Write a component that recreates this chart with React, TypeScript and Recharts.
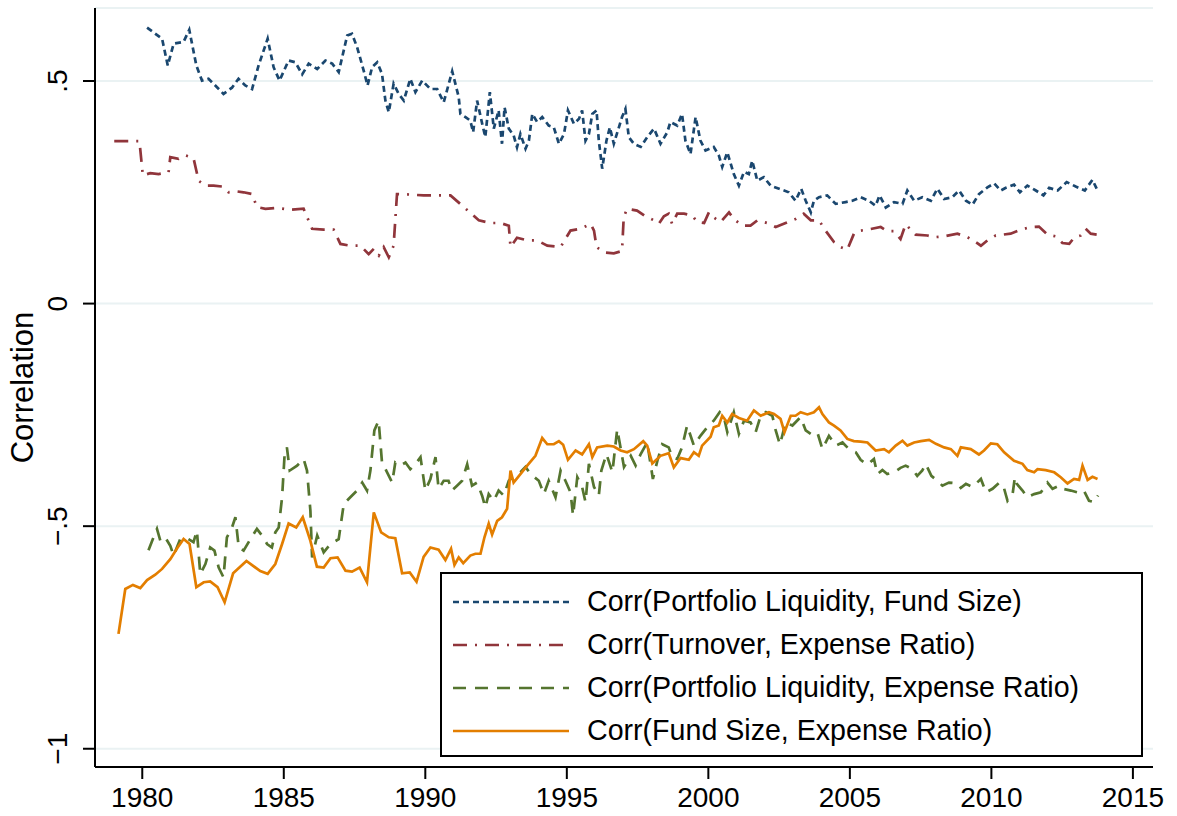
import React from "react";
import { LineChart, Line, XAxis, YAxis, CartesianGrid, Legend, Label } from "recharts";

const FONT = '"Liberation Sans", Arial, Helvetica, sans-serif';

// [year, correlation] pairs
const liqSize: [number, number][] = [
  [1980.17, 0.62], [1980.7, 0.595], [1980.9, 0.535], [1981.11, 0.584], [1981.46, 0.588], [1981.66, 0.615],
  [1981.91, 0.535], [1982.11, 0.501], [1982.34, 0.505], [1982.58, 0.49], [1982.87, 0.471], [1983.17, 0.485],
  [1983.4, 0.505], [1983.64, 0.49], [1983.88, 0.482], [1984.11, 0.535], [1984.43, 0.595], [1984.64, 0.531],
  [1984.85, 0.501], [1985.17, 0.546], [1985.41, 0.542], [1985.65, 0.515], [1985.88, 0.539], [1986.18, 0.527],
  [1986.47, 0.546], [1986.71, 0.539], [1986.94, 0.52], [1987.24, 0.602], [1987.41, 0.606], [1987.59, 0.576],
  [1987.82, 0.524], [1987.96, 0.49], [1988.12, 0.531], [1988.3, 0.542], [1988.47, 0.516], [1988.59, 0.456],
  [1988.71, 0.43], [1988.88, 0.494], [1989.06, 0.471], [1989.24, 0.456], [1989.47, 0.505], [1989.65, 0.475],
  [1989.89, 0.501], [1990.18, 0.482], [1990.42, 0.482], [1990.65, 0.452], [1990.95, 0.522], [1991.18, 0.464],
  [1991.24, 0.426], [1991.42, 0.419], [1991.59, 0.411], [1991.69, 0.385], [1991.83, 0.456], [1992.01, 0.404],
  [1992.12, 0.374], [1992.28, 0.475], [1992.42, 0.393], [1992.59, 0.434], [1992.71, 0.359], [1992.8, 0.441],
  [1992.95, 0.393], [1993.12, 0.378], [1993.24, 0.351], [1993.36, 0.381], [1993.54, 0.348], [1993.66, 0.366],
  [1993.78, 0.426], [1993.95, 0.408], [1994.13, 0.419], [1994.36, 0.4], [1994.54, 0.396], [1994.72, 0.359],
  [1994.9, 0.381], [1995.04, 0.434], [1995.25, 0.404], [1995.43, 0.415], [1995.54, 0.434], [1995.66, 0.366],
  [1995.78, 0.381], [1995.9, 0.426], [1996.05, 0.434], [1996.13, 0.366], [1996.25, 0.303], [1996.4, 0.366],
  [1996.52, 0.396], [1996.66, 0.359], [1996.84, 0.396], [1996.95, 0.419], [1997.07, 0.437], [1997.19, 0.374],
  [1997.37, 0.359], [1997.61, 0.352], [1997.84, 0.374], [1998.08, 0.393], [1998.31, 0.359], [1998.55, 0.385],
  [1998.66, 0.408], [1998.9, 0.4], [1999.07, 0.426], [1999.19, 0.366], [1999.37, 0.336], [1999.55, 0.419],
  [1999.72, 0.366], [1999.9, 0.344], [2000.19, 0.352], [2000.37, 0.333], [2000.49, 0.307], [2000.67, 0.34],
  [2000.9, 0.291], [2001.08, 0.265], [2001.26, 0.296], [2001.43, 0.291], [2001.55, 0.321], [2001.73, 0.276],
  [2001.96, 0.284], [2002.2, 0.265], [2002.5, 0.258], [2002.84, 0.25], [2003.08, 0.231], [2003.28, 0.258],
  [2003.44, 0.231], [2003.62, 0.205], [2003.73, 0.231], [2003.91, 0.239], [2004.2, 0.243], [2004.5, 0.224],
  [2004.85, 0.228], [2005.09, 0.231], [2005.38, 0.239], [2005.67, 0.231], [2005.91, 0.22], [2006.05, 0.243],
  [2006.27, 0.216], [2006.56, 0.228], [2006.86, 0.224], [2007.03, 0.254], [2007.27, 0.231], [2007.56, 0.239],
  [2007.86, 0.231], [2008.09, 0.258], [2008.33, 0.235], [2008.62, 0.239], [2008.86, 0.254], [2009.1, 0.231],
  [2009.33, 0.222], [2009.56, 0.246], [2009.86, 0.261], [2010.1, 0.27], [2010.33, 0.254], [2010.51, 0.26],
  [2010.8, 0.267], [2011.01, 0.25], [2011.27, 0.265], [2011.57, 0.254], [2011.84, 0.243], [2012.04, 0.26],
  [2012.34, 0.254], [2012.66, 0.273], [2012.98, 0.263], [2013.3, 0.254], [2013.57, 0.278], [2013.72, 0.258],
];

const turnExp: [number, number][] = [
  [1979.01, 0.365], [1979.9, 0.365], [1980.02, 0.288], [1980.28, 0.293], [1980.58, 0.291], [1980.93, 0.295],
  [1980.99, 0.329], [1981.28, 0.325], [1981.52, 0.333], [1981.81, 0.327], [1981.99, 0.276], [1982.23, 0.265],
  [1982.52, 0.265], [1982.82, 0.263], [1983.05, 0.25], [1983.35, 0.252], [1983.58, 0.25], [1983.88, 0.246],
  [1984.05, 0.217], [1984.35, 0.213], [1984.76, 0.215], [1985.23, 0.211], [1985.7, 0.213], [1986.0, 0.168],
  [1986.41, 0.166], [1986.76, 0.166], [1987.0, 0.134], [1987.35, 0.13], [1987.71, 0.13], [1988.0, 0.111],
  [1988.18, 0.123], [1988.36, 0.108], [1988.53, 0.127], [1988.71, 0.104], [1988.88, 0.13], [1989.0, 0.246],
  [1989.47, 0.245], [1989.94, 0.243], [1990.3, 0.243], [1990.89, 0.243], [1991.36, 0.217], [1991.89, 0.187],
  [1992.3, 0.181], [1992.65, 0.181], [1992.95, 0.175], [1993.01, 0.127], [1993.24, 0.148], [1993.6, 0.142],
  [1993.95, 0.142], [1994.31, 0.13], [1994.78, 0.127], [1995.13, 0.164], [1995.48, 0.168], [1995.84, 0.179],
  [1995.96, 0.164], [1996.05, 0.127], [1996.31, 0.115], [1996.66, 0.113], [1996.95, 0.118], [1997.01, 0.194],
  [1997.13, 0.213], [1997.48, 0.209], [1997.78, 0.196], [1998.08, 0.187], [1998.25, 0.179], [1998.43, 0.196],
  [1998.6, 0.202], [1998.72, 0.179], [1998.9, 0.202], [1999.14, 0.202], [1999.43, 0.198], [1999.61, 0.183],
  [1999.85, 0.181], [2000.02, 0.205], [2000.2, 0.193], [2000.43, 0.183], [2000.73, 0.205], [2000.9, 0.19],
  [2001.2, 0.175], [2001.49, 0.175], [2001.73, 0.187], [2002.08, 0.181], [2002.38, 0.172], [2002.73, 0.181],
  [2003.08, 0.19], [2003.37, 0.202], [2003.62, 0.187], [2003.91, 0.187], [2004.14, 0.164], [2004.44, 0.138],
  [2004.67, 0.127], [2004.91, 0.121], [2005.15, 0.158], [2005.38, 0.164], [2005.62, 0.166], [2006.09, 0.172],
  [2006.32, 0.163], [2006.56, 0.163], [2006.79, 0.145], [2006.97, 0.178], [2007.32, 0.155], [2007.74, 0.153],
  [2007.97, 0.149], [2008.33, 0.151], [2008.8, 0.157], [2009.16, 0.149], [2009.4, 0.14], [2009.63, 0.13],
  [2009.86, 0.142], [2010.15, 0.153], [2010.68, 0.157], [2011.04, 0.166], [2011.39, 0.172], [2011.68, 0.173],
  [2011.98, 0.155], [2012.27, 0.151], [2012.51, 0.136], [2012.75, 0.134], [2012.92, 0.148], [2013.16, 0.153],
  [2013.33, 0.168], [2013.51, 0.157], [2013.72, 0.155],
];

const liqExp: [number, number][] = [
  [1980.22, -0.554], [1980.4, -0.525], [1980.52, -0.506], [1980.64, -0.533], [1980.81, -0.525], [1980.99, -0.544],
  [1981.11, -0.566], [1981.34, -0.529], [1981.58, -0.527], [1981.81, -0.536], [1981.93, -0.51], [1982.05, -0.608],
  [1982.23, -0.585], [1982.4, -0.548], [1982.55, -0.555], [1982.7, -0.593], [1982.87, -0.615], [1982.99, -0.525],
  [1983.17, -0.503], [1983.29, -0.48], [1983.41, -0.548], [1983.58, -0.555], [1983.82, -0.529], [1984.05, -0.506],
  [1984.23, -0.521], [1984.41, -0.54], [1984.58, -0.548], [1984.7, -0.514], [1984.82, -0.503], [1984.94, -0.435],
  [1985.03, -0.338], [1985.11, -0.323], [1985.21, -0.375], [1985.47, -0.364], [1985.7, -0.349], [1985.82, -0.375],
  [1985.94, -0.465], [1986.0, -0.57], [1986.18, -0.521], [1986.41, -0.559], [1986.65, -0.54], [1986.94, -0.529],
  [1987.12, -0.45], [1987.35, -0.435], [1987.59, -0.42], [1987.77, -0.402], [1987.94, -0.42], [1988.06, -0.375],
  [1988.2, -0.285], [1988.35, -0.263], [1988.47, -0.357], [1988.65, -0.379], [1988.83, -0.402], [1988.94, -0.357],
  [1989.12, -0.364], [1989.3, -0.357], [1989.47, -0.372], [1989.65, -0.361], [1989.83, -0.345], [1990.0, -0.42],
  [1990.18, -0.394], [1990.36, -0.345], [1990.47, -0.416], [1990.65, -0.398], [1990.82, -0.398], [1990.94, -0.42],
  [1991.12, -0.409], [1991.3, -0.398], [1991.48, -0.361], [1991.65, -0.409], [1991.83, -0.402], [1992.01, -0.432],
  [1992.12, -0.458], [1992.24, -0.428], [1992.42, -0.443], [1992.59, -0.42], [1992.77, -0.431], [1992.95, -0.398],
  [1993.12, -0.387], [1993.36, -0.379], [1993.54, -0.367], [1993.72, -0.383], [1994.01, -0.398], [1994.19, -0.428],
  [1994.36, -0.398], [1994.6, -0.435], [1994.78, -0.375], [1994.95, -0.398], [1995.13, -0.424], [1995.22, -0.476],
  [1995.37, -0.39], [1995.54, -0.412], [1995.66, -0.446], [1995.78, -0.36], [1995.96, -0.412], [1996.13, -0.431],
  [1996.22, -0.375], [1996.4, -0.338], [1996.61, -0.379], [1996.78, -0.282], [1997.02, -0.367], [1997.26, -0.342],
  [1997.43, -0.364], [1997.61, -0.338], [1997.84, -0.312], [1998.04, -0.394], [1998.2, -0.353], [1998.37, -0.316],
  [1998.6, -0.323], [1998.72, -0.345], [1998.9, -0.349], [1999.07, -0.323], [1999.25, -0.274], [1999.49, -0.319],
  [1999.72, -0.297], [1999.96, -0.278], [2000.19, -0.263], [2000.4, -0.244], [2000.55, -0.255], [2000.67, -0.289],
  [2000.9, -0.244], [2001.08, -0.293], [2001.26, -0.263], [2001.49, -0.267], [2001.67, -0.289], [2001.85, -0.252],
  [2002.03, -0.244], [2002.26, -0.252], [2002.38, -0.285], [2002.53, -0.317], [2002.73, -0.267], [2002.97, -0.274],
  [2003.26, -0.255], [2003.44, -0.285], [2003.62, -0.293], [2003.85, -0.289], [2004.03, -0.327], [2004.26, -0.297],
  [2004.5, -0.319], [2004.74, -0.312], [2004.97, -0.327], [2005.21, -0.334], [2005.38, -0.351], [2005.62, -0.362],
  [2005.85, -0.349], [2005.97, -0.383], [2006.15, -0.374], [2006.32, -0.383], [2006.56, -0.379], [2006.79, -0.369],
  [2006.97, -0.364], [2007.21, -0.372], [2007.38, -0.387], [2007.56, -0.375], [2007.68, -0.36], [2007.88, -0.387],
  [2008.09, -0.398], [2008.27, -0.409], [2008.5, -0.402], [2008.8, -0.404], [2008.92, -0.414], [2009.1, -0.405],
  [2009.33, -0.412], [2009.63, -0.394], [2009.81, -0.424], [2010.04, -0.416], [2010.28, -0.402], [2010.43, -0.411],
  [2010.57, -0.443], [2010.75, -0.428], [2010.83, -0.39], [2010.9, -0.405], [2011.1, -0.42], [2011.27, -0.435],
  [2011.51, -0.428], [2011.75, -0.424], [2011.98, -0.402], [2012.16, -0.416], [2012.39, -0.409], [2012.51, -0.416],
  [2012.81, -0.42], [2013.04, -0.424], [2013.26, -0.419], [2013.45, -0.443], [2013.63, -0.446], [2013.77, -0.431],
];

const sizeExp: [number, number][] = [
  [1979.16, -0.742], [1979.4, -0.641], [1979.67, -0.632], [1979.93, -0.639], [1980.17, -0.621], [1980.46, -0.609],
  [1980.7, -0.596], [1980.99, -0.574], [1981.25, -0.548], [1981.46, -0.529], [1981.67, -0.54], [1981.91, -0.637],
  [1982.17, -0.626], [1982.4, -0.624], [1982.66, -0.637], [1982.91, -0.671], [1983.21, -0.606], [1983.68, -0.578],
  [1984.17, -0.601], [1984.43, -0.607], [1984.7, -0.585], [1984.94, -0.54], [1985.17, -0.494], [1985.44, -0.503],
  [1985.67, -0.48], [1985.94, -0.533], [1986.17, -0.591], [1986.41, -0.593], [1986.65, -0.572], [1986.9, -0.57],
  [1987.18, -0.6], [1987.41, -0.602], [1987.68, -0.593], [1987.94, -0.626], [1988.18, -0.469], [1988.44, -0.514],
  [1988.71, -0.525], [1988.94, -0.527], [1989.18, -0.606], [1989.45, -0.604], [1989.69, -0.625], [1989.94, -0.569],
  [1990.18, -0.548], [1990.47, -0.553], [1990.71, -0.576], [1990.91, -0.551], [1991.03, -0.587], [1991.18, -0.57],
  [1991.34, -0.583], [1991.59, -0.566], [1991.77, -0.562], [1991.95, -0.562], [1992.09, -0.525], [1992.24, -0.494],
  [1992.36, -0.519], [1992.54, -0.488], [1992.71, -0.48], [1992.89, -0.461], [1993.01, -0.375], [1993.12, -0.402],
  [1993.36, -0.383], [1993.6, -0.364], [1993.89, -0.342], [1994.13, -0.302], [1994.31, -0.316], [1994.54, -0.316],
  [1994.72, -0.309], [1994.87, -0.317], [1995.04, -0.351], [1995.31, -0.33], [1995.54, -0.339], [1995.78, -0.316],
  [1995.9, -0.345], [1996.07, -0.323], [1996.43, -0.319], [1996.66, -0.321], [1996.9, -0.33], [1997.13, -0.334],
  [1997.37, -0.327], [1997.7, -0.309], [1997.84, -0.319], [1998.02, -0.359], [1998.31, -0.342], [1998.6, -0.336],
  [1998.78, -0.368], [1999.02, -0.347], [1999.31, -0.351], [1999.49, -0.334], [1999.66, -0.342], [1999.78, -0.319],
  [2000.08, -0.299], [2000.19, -0.278], [2000.37, -0.274], [2000.49, -0.252], [2000.67, -0.267], [2000.84, -0.248],
  [2001.08, -0.257], [2001.37, -0.263], [2001.61, -0.24], [2001.85, -0.252], [2002.14, -0.244], [2002.32, -0.248],
  [2002.55, -0.259], [2002.69, -0.289], [2002.91, -0.252], [2003.08, -0.252], [2003.26, -0.244], [2003.5, -0.249],
  [2003.73, -0.244], [2003.91, -0.233], [2004.03, -0.248], [2004.26, -0.267], [2004.44, -0.274], [2004.67, -0.285],
  [2004.91, -0.304], [2005.14, -0.309], [2005.38, -0.31], [2005.62, -0.312], [2005.91, -0.33], [2006.21, -0.327],
  [2006.38, -0.334], [2006.62, -0.319], [2006.86, -0.308], [2007.03, -0.319], [2007.27, -0.312], [2007.51, -0.309],
  [2007.8, -0.306], [2008.04, -0.315], [2008.33, -0.323], [2008.57, -0.327], [2008.8, -0.342], [2008.92, -0.323],
  [2009.27, -0.327], [2009.56, -0.339], [2009.74, -0.33], [2009.98, -0.314], [2010.21, -0.316], [2010.45, -0.334],
  [2010.8, -0.353], [2011.1, -0.36], [2011.27, -0.374], [2011.51, -0.379], [2011.63, -0.372], [2011.92, -0.374],
  [2012.22, -0.379], [2012.45, -0.39], [2012.69, -0.404], [2012.92, -0.394], [2013.1, -0.396], [2013.22, -0.364],
  [2013.4, -0.396], [2013.57, -0.389], [2013.75, -0.394],
];

const xTicks = [1980, 1985, 1990, 1995, 2000, 2005, 2010, 2015];
const yTicks = [-1, -0.5, 0, 0.5];
const yTickLabels = ["\u22121", "\u2212.5", "0", ".5"];

const series = [
  { name: "Corr(Portfolio Liquidity, Fund Size)", points: liqSize, color: "#1a476f", dash: "6 4" },
  { name: "Corr(Turnover, Expense Ratio)", points: turnExp, color: "#90353b", dash: "14 8 2 8" },
  { name: "Corr(Portfolio Liquidity, Expense Ratio)", points: liqExp, color: "#55752f", dash: "13 9" },
  { name: "Corr(Fund Size, Expense Ratio)", points: sizeExp, color: "#e37e00", dash: undefined },
];

const XTick = (props: any) => (
  <text x={props.x} y={props.y + 26} textAnchor="middle" fontSize={28} fontFamily={FONT} fill="#000">
    {props.payload.value}
  </text>
);

const YTick = (props: any) => {
  const bx = props.x - 14;
  const i = yTicks.indexOf(props.payload.value);
  return (
    <text x={bx} y={props.y} transform={`rotate(-90 ${bx} ${props.y})`} textAnchor="middle" fontSize={28} fontFamily={FONT} fill="#000">
      {i >= 0 ? yTickLabels[i] : props.payload.value}
    </text>
  );
};

const renderLegend = () => (
  <div style={{ border: "2px solid #000", background: "#fff", width: 703, height: 185, boxSizing: "border-box", paddingTop: 6, paddingLeft: 11 }}>
    {series.map((s) => (
      <div key={s.name} style={{ display: "flex", alignItems: "center", height: 43 }}>
        <svg width={116} height={8}>
          <line x1={0} y1={4} x2={116} y2={4} stroke={s.color} strokeWidth={2.6} strokeDasharray={s.dash} />
        </svg>
        <span style={{ marginLeft: 18, fontSize: 28.6, fontFamily: FONT, color: "#000", whiteSpace: "nowrap" }}>{s.name}</span>
      </div>
    ))}
  </div>
);

export default function App() {
  return (
    <div style={{ position: "absolute", left: 0, top: 0, width: 1177, height: 816, background: "#fff" }}>
      <LineChart width={1177} height={816} margin={{ top: 8, right: 24, bottom: 0, left: 15 }}>
        <CartesianGrid horizontal vertical={false} stroke="#eaf2f3" strokeWidth={2} />
        <XAxis
          type="number"
          dataKey="year"
          domain={[1978.33, 2015.71]}
          allowDataOverflow
          ticks={xTicks}
          height={49}
          tickSize={12}
          tickMargin={2}
          axisLine={{ stroke: "#000", strokeWidth: 2 }}
          tickLine={{ stroke: "#000", strokeWidth: 2 }}
          tick={XTick}
        />
        <YAxis
          type="number"
          domain={[-1.041, 0.664]}
          allowDataOverflow
          ticks={yTicks}
          width={80}
          tickSize={12}
          tickMargin={2}
          axisLine={{ stroke: "#000", strokeWidth: 2 }}
          tickLine={{ stroke: "#000", strokeWidth: 2 }}
          tick={YTick}
        >
          <Label
            content={(p: any) => {
              const vb = p.viewBox;
              const cx = vb.x + 18;
              const cy = vb.y + vb.height / 2;
              return (
                <text x={cx} y={cy} transform={`rotate(-90 ${cx} ${cy})`} textAnchor="middle" fontSize={31} fontFamily={FONT} fill="#000">
                  Correlation
                </text>
              );
            }}
          />
        </YAxis>
        {series.map((s) => (
          <Line
            key={s.name}
            name={s.name}
            data={s.points.map(([year, value]) => ({ year, value }))}
            dataKey="value"
            type="linear"
            stroke={s.color}
            strokeWidth={2.7}
            strokeDasharray={s.dash}
            dot={false}
            activeDot={false}
            isAnimationActive={false}
          />
        ))}
        <Legend
          layout="vertical"
          align="center"
          verticalAlign="middle"
          content={renderLegend}
          wrapperStyle={{ left: 440, top: 572, width: 703, height: 185 }}
        />
      </LineChart>
    </div>
  );
}
